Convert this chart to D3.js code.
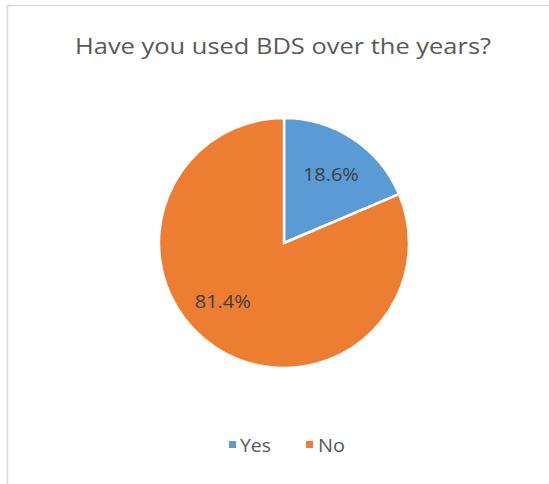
<!DOCTYPE html>
<html>
<head>
<meta charset="utf-8">
<script src="https://cdn.jsdelivr.net/npm/d3@7/dist/d3.min.js"></script>
<style>
  html, body { margin: 0; padding: 0; background: #fff; }
  svg { display: block; }
  text { font-family: "Open Sans", "Noto Sans", sans-serif; }
</style>
</head>
<body>
<svg id="chart" width="549" height="484"></svg>
<script>
// Survey answers
const categories = ["Yes", "No"];
const shares = [18.6, 81.4];
const colors = ["#5b9bd5", "#ed7d31"];
const title = "Have you used BDS over the years?";

const svg = d3.select("#chart");
const W = 549, H = 484;

// Chart area frame
svg.append("rect")
  .attr("x", 7.5).attr("y", 5.5)
  .attr("width", W).attr("height", H)
  .attr("fill", "#fff")
  .attr("stroke", "#d9d9d9")
  .attr("stroke-width", 1.5);

svg.append("text")
  .attr("x", 283).attr("y", 54)
  .attr("text-anchor", "middle")
  .attr("font-size", 22)
  .attr("textLength", 416)
  .attr("lengthAdjust", "spacingAndGlyphs")
  .attr("fill", "#595959")
  .text(title);

const cx = 284, cy = 243, r = 125;
const data = categories.map((c, i) => ({ name: c, value: shares[i], color: colors[i] }));

const pie = d3.pie().value(d => d.value).sort(null);
const arc = d3.arc().innerRadius(0).outerRadius(r);

// best-fit label placement: angle shift (radians) and radius fraction per slice
const labelPlace = [
  { dAngle: 0.02, frac: 0.66 },
  { dAngle: 0.22, frac: 0.68 }
];

const g = svg.append("g").attr("transform", `translate(${cx},${cy})`);
const arcs = pie(data);

g.selectAll("path")
  .data(arcs)
  .join("path")
  .attr("d", arc)
  .attr("fill", d => d.data.color)
  .attr("stroke", "#fff")
  .attr("stroke-width", 2.5)
  .attr("stroke-linejoin", "miter");

g.selectAll("text.lbl")
  .data(arcs)
  .join("text")
  .attr("class", "lbl")
  .attr("transform", (d, i) => {
    const a = (d.startAngle + d.endAngle) / 2 + labelPlace[i].dAngle;
    const rr = r * labelPlace[i].frac;
    return `translate(${rr * Math.sin(a)},${-rr * Math.cos(a)})`;
  })
  .attr("text-anchor", "middle")
  .attr("dy", "0.35em")
  .attr("font-size", 17.5)
  .attr("textLength", 56)
  .attr("lengthAdjust", "spacingAndGlyphs")
  .attr("fill", "#404040")
  .text(d => d.data.value.toFixed(1) + "%");

// Legend
const legendItems = [
  { x: 229, textX: 240, len: 31 },
  { x: 306, textX: 318, len: 27 }
];
const legend = svg.append("g");
data.forEach((d, i) => {
  legend.append("rect")
    .attr("x", legendItems[i].x).attr("y", 441)
    .attr("width", 7).attr("height", 7)
    .attr("fill", d.color);
  legend.append("text")
    .attr("x", legendItems[i].textX).attr("y", 451.5)
    .attr("font-size", 18)
    .attr("textLength", legendItems[i].len)
    .attr("lengthAdjust", "spacingAndGlyphs")
    .attr("fill", "#595959")
    .text(d.name);
});
</script>
</body>
</html>
